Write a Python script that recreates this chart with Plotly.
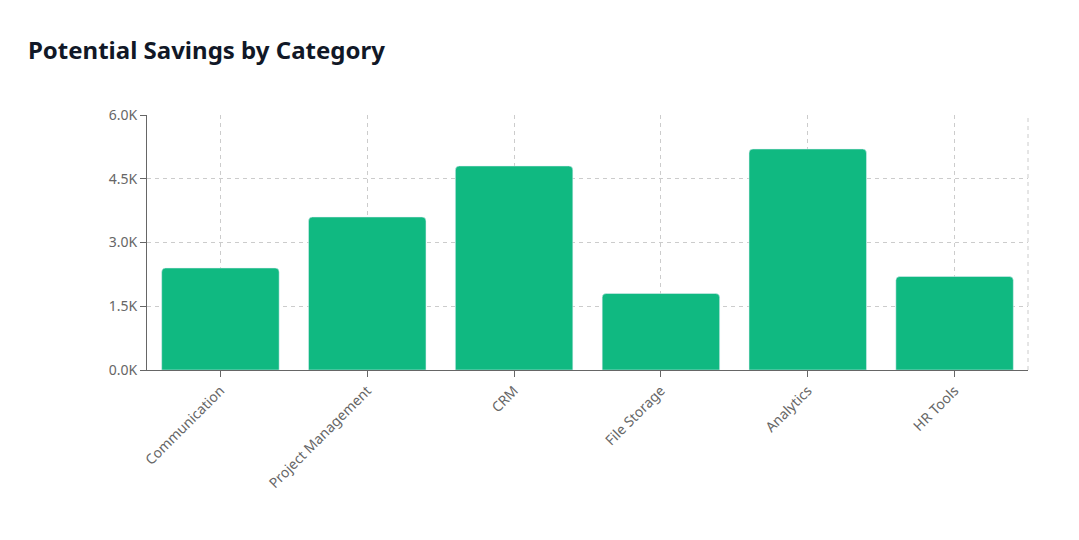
import plotly.graph_objects as go

categories = ["Communication", "Project Management", "CRM", "File Storage", "Analytics", "HR Tools"]
savings = [2400, 3600, 4800, 1800, 5200, 2200]
tick_vals = [0, 1500, 3000, 4500, 6000]
tick_text = ["0.0K", "1.5K", "3.0K", "4.5K", "6.0K"]

fig = go.Figure(go.Bar(
    x=categories, y=savings,
    marker={'color': "#10b981", 'cornerradius': 4},
    hovertemplate="%{x}: %{y}<extra></extra>"))

fig.update_layout(
    width=1079, height=540,
    margin={'l': 139, 'r': 59, 't': 107, 'b': 178},
    paper_bgcolor="white", plot_bgcolor="white",
    bargap=0.2,
    font={'family': "Segoe UI, Noto Sans, sans-serif", 'color': "#666", 'size': 14},
    title={'text': "<b>Potential Savings by Category</b>", 'x': 0.0185, 'xanchor': "left",
           'y': 0.922, 'yanchor': "middle",
           'font': {'size': 24, 'color': "#111827"}},
    shapes=[{'type': "line", 'xref': "paper", 'yref': "paper", 'x0': 1, 'x1': 1, 'y0': 0, 'y1': 1,
             'line': {'color': "#ccc", 'width': 1, 'dash': "4px,4px"}}])

fig.update_xaxes(
    showgrid=True, gridcolor="#ccc", griddash="4px,4px",
    showline=True, linecolor="#666", ticks="outside", tickcolor="#666", ticklen=6,
    tickangle=-45, tickfont={'size': 14, 'color': "#666"})
fig.update_yaxes(
    range=[0, 6000], tickvals=tick_vals, ticktext=tick_text,
    showgrid=True, gridcolor="#ccc", griddash="4px,4px", zeroline=False,
    showline=True, linecolor="#666", ticks="outside", tickcolor="#666", ticklen=6,
    tickfont={'size': 14, 'color': "#666"})

fig.write_html("out.html")
